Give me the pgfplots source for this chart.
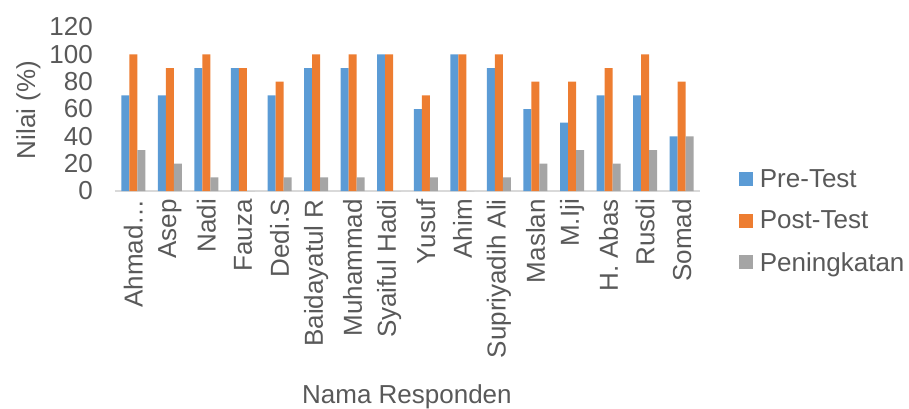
\documentclass[border=0pt]{standalone}
\usepackage{pgfplots}
\pgfplotsset{compat=1.18}
\usepackage{fontspec}
\setmainfont{Liberation Sans}
\definecolor{cblue}{HTML}{5B9BD5}
\definecolor{corange}{HTML}{ED7D31}
\definecolor{cgray}{HTML}{A5A5A5}
\definecolor{ctext}{HTML}{595959}
\definecolor{caxis}{HTML}{D9D9D9}
\begin{document}
\begin{tikzpicture}[font=\fontsize{26}{31}\selectfont, text=ctext]
\path[use as bounding box] (-115pt,-217pt) rectangle (794pt,191pt);
\begin{axis}[
  at={(0,0)}, anchor=south west,
  scale only axis, width=585pt, height=164pt,
  ymin=0, ymax=120, ytick={0,20,...,120},
  xmin=-0.5, xmax=15.5,
  xtick=data,
  xticklabels={Ahmad…,Asep,Nadi,Fauza,Dedi.S,Baidayatul R,Muhammad,Syaiful Hadi,Yusuf,Ahim,Supriyadih Ali,Maslan,M.Iji,H. Abas,Rusdi,Somad},
  ybar=0pt, bar width=8pt,
  axis x line*=bottom, axis y line*=left,
  x axis line style={draw=caxis, line width=1.5pt},
  y axis line style={draw=none},
  major tick length=0pt,
  /pgf/number format/assume math mode=true,
  tick label style={font=\fontsize{26}{31}\selectfont, text=ctext},
  yticklabel style={anchor=east, inner sep=0pt, xshift=-22pt},
  xticklabel style={rotate=90, anchor=east, inner sep=0pt},
  xticklabel shift=8pt,
  every axis y label/.style={at={(axis description cs:-0.148,0.494)}, rotate=90, anchor=center, font=\fontsize{26}{31}\selectfont, text=ctext},
  every axis x label/.style={at={(axis description cs:0.499,-1.256)}, anchor=center, font=\fontsize{26}{31}\selectfont, text=ctext},
  ylabel={Nilai (\%)},
  xlabel={Nama Responden},
  legend style={at={(1.061,0.151)}, anchor=north west, draw=none, fill=none,
    font=\fontsize{26}{31}\selectfont, text=ctext, row sep=20pt,
    nodes={inner sep=1pt}},
  legend cell align=left,
  legend image code/.code={\fill[#1] (0pt,-7pt) rectangle (14pt,7pt); \path (20pt,0pt);},
]
\addplot[fill=cblue, draw=none] coordinates {(0,70)(1,70)(2,90)(3,90)(4,70)(5,90)(6,90)(7,100)(8,60)(9,100)(10,90)(11,60)(12,50)(13,70)(14,70)(15,40)};
\addplot[fill=corange, draw=none] coordinates {(0,100)(1,90)(2,100)(3,90)(4,80)(5,100)(6,100)(7,100)(8,70)(9,100)(10,100)(11,80)(12,80)(13,90)(14,100)(15,80)};
\addplot[fill=cgray, draw=none] coordinates {(0,30)(1,20)(2,10)(3,0)(4,10)(5,10)(6,10)(7,0)(8,10)(9,0)(10,10)(11,20)(12,30)(13,20)(14,30)(15,40)};
\legend{Pre-Test,Post-Test,Peningkatan}
\end{axis}
\end{tikzpicture}
\end{document}
